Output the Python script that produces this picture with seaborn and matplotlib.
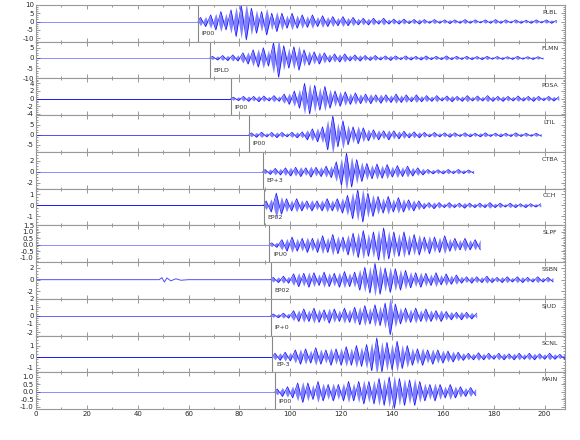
import numpy as np
import pandas as pd
import matplotlib
matplotlib.use("Agg")
import matplotlib.pyplot as plt
import seaborn as sns
from matplotlib.ticker import MultipleLocator, AutoMinorLocator, FormatStrFormatter

# station records, top to bottom
stations = ["PLBL", "FLMN", "PDSA", "LTIL", "CTBA", "CCH", "SLPF", "SSBN", "SJUD", "SCNL", "MAIN"]
pick_labels = ["IP00", "EPLD", "IP00", "IP00", "EP+3", "EP02", "IPU0", "EP02", "IP+0", "EP-3", "IP00"]
p_times = [63.7, 68.4, 76.6, 83.7, 89.1, 89.5, 91.7, 92.3, 92.3, 93.0, 93.9]
dt = 2.0  # spacing of the digitised peaks after the P pick (s)

# signed peak amplitudes, one every dt seconds after P
amp_plbl = [2.5, -3, 4, -5, 6, -5, 7, -9, 10, -11, 8, -7, 6, -8, 5, -6, 5, -4, 5, -4,
            4, -3.5, 4, -3, 3.5, -3, 3, -2.5, 3, -2.5, 2.5, -2, 2, -2, 2, -1.5, 2, -1.5, 1.5,
            -1.5, 1.5, -1.2, 1.3, -1.5, 1.2, -1, 1.2, -1, 1, -1.2, 1, -1, 1.2, -1, 1,
            -0.8, 1, -1, 1.2, -1, 1, -0.8, 1, -1, 0.8, -1, 1, -0.8, 1, -1, 0.8]
amp_flmn = [0.8, -1, 1.2, -1.3, 1.5, -1.5, 2.5, -3, 4, -4.5, 5, -4, 7.5, -9.5, 6, -5,
            5.5, -6, 4, -3.5, 3, -3, 2.5, -2, 2, -2, 2, -1.5, 1.5, -1.5, 1.2, -1.2,
            1.2, -1, 1, -1.2, 1, -0.8, 1, -1, 0.8, -1, 1, -0.8, 0.8, -0.8, 1, -0.8, 0.8,
            -0.7, 0.8, -0.8, 0.7, -0.8, 0.8, -0.6, 0.7, -0.7, 0.6, -0.7, 0.8, -0.6, 0.6,
            -0.7, 0.6, -0.5]
amp_pdsa = [0.4, -0.5, 0.6, -0.7, 0.6, -0.8, 0.7, -0.6, 0.8, -0.7,
            1.2, -1.5, 2, -2.5, 4, -4, 3.5, -3, 3.2, -2.5, 2, -2, 1.8, -1.5, 1.5,
            -1.3, 1.2, -1.3, 1, -1.2, 1, -1, 1.2, -1, 1, -0.8, 1, -0.8,
            0.8, -0.7, 0.8, -0.6, 0.7, -0.8, 0.6, -0.7, 0.8, -0.6, 0.7, -0.6, 0.8, -0.7,
            0.6, -0.7, 0.6, -0.6, 0.7, -0.6, 0.6, -0.7, 0.6, -0.5, 0.6, -0.6, 0.5]
amp_ltil = [1, -1.2, 1.3, -1, 1.2, -1.4, 1.2, -1, 1.3, -1.5, 1.5,
            -2.5, 3, -3.5, 4, -7.5, 9.5, -6, 7, -5, 4, -4.5, 3.5, -3,
            2.5, -2.5, 2, -2.5, 2, -2, 1.8, -1.5, 1.5, -1.5,
            1.2, -1, 1.2, -1, 1, -1.2, 1, -0.8, 1, -1, 0.8, -1, 1, -0.8, 0.8, -1,
            0.8, -0.8, 1, -0.8, 0.8, -0.7, 0.8, -0.7]
amp_ctba = [0.4, -0.5, 0.6, -0.6, 0.7, -0.8, 0.8, -0.9, 0.7, -1, 0.8, -0.9, 1, -1.1,
            1.8, -2.5, 3.4, -2.8, 2.2, -1.8, 1.5, -1.3, 1.4, -1.2,
            1.3, -1, 1.1, -0.9, 1, -0.8, 0.7, -0.6,
            0.4, -0.4, 0.35, -0.4, 0.4, -0.35, 0.4, -0.35, 0.3, -0.3]
amp_cch = [0.4, -0.6, 1.1, -0.8, 0.6, -0.5, 0.6, -0.5, 0.4, -0.5, 0.4, -0.5, 0.6, -0.5,
           0.6, -0.7, 0.9, -1.2, 1.4, -1.5, 1.1, -1, 0.8, -0.7, 0.8, -0.6, 0.7, -0.6,
           0.5, -0.5, 0.4, -0.3, 0.25, -0.3, 0.25, -0.2, 0.25, -0.2, 0.2, -0.25, 0.2,
           -0.2, 0.2, -0.2, 0.25, -0.2, 0.2, -0.15, 0.2, -0.2, 0.15, -0.2, 0.15, -0.15, 0.15]
amp_slpf = [0.15, -0.2, 0.4, -0.5, 0.6, -0.5, 0.5, -0.6, 0.5, -0.6,
            0.7, -0.6, 0.8, -0.7, 0.6, -0.8, 0.9, -1, 1.1, -0.9, 1, -1.2, 1.3, -1.1, 1,
            -0.9, 1, -0.8, 0.8, -0.8, 0.6, -0.7, 0.6, -0.6, 0.7,
            -0.5, 0.5, -0.4, 0.5, -0.4, 0.4, -0.4]
amp_ssbn = [0.4, -0.5, 0.6, -0.6, 1, -1.2, 1.1, -1.3, 1.2, -1, 1.3, -1.2, 1.1, -1.3,
            1.4, -1.2, 1.3, -1.8, 2.1, -2.3, 2.8, -2.5, 2, -2.2, 1.9, -1.8, 1.6,
            -1.4, 1.2, -1.3, 1.1, -1, 1.2, -0.9, 1, -0.8, 0.8,
            -0.6, 0.5, -0.6, 0.5, -0.5, 0.6, -0.5, 0.4, -0.5, 0.5, -0.4, 0.5, -0.5,
            0.4, -0.4, 0.5, -0.4, 0.4, -0.4]
amp_sjud = [0.2, -0.25, 0.3, -0.3, 0.6, -0.7, 0.8, -0.7, 0.9, -0.8, 0.7, -0.9, 0.8,
            -0.7, 0.9, -0.8, 1, -1.1, 1.2, -1, 1.3, -1.2, 1.5, -2.3, 1.4,
            -1, 0.9, -0.8, 0.9, -0.7, 0.8, -0.7, 0.6, -0.7,
            0.5, -0.5, 0.4, -0.5, 0.4, -0.4, 0.3]
amp_scnl = [0.3, -0.35, 0.4, -0.4, 0.6, -0.7, 0.7, -0.6, 0.8, -0.7, 0.6, -0.8, 0.7, -0.8,
            0.9, -0.8, 1, -0.9, 1.1, -1.3, 1.7, -1.4, 1.3, -1.2, 1.4, -1.1, 1,
            -0.8, 0.7, -0.8, 0.6, -0.7, 0.6, -0.6, 0.5, -0.5, 0.4,
            -0.35, 0.3, -0.3, 0.35, -0.3, 0.3, -0.25, 0.3, -0.3, 0.25, -0.3, 0.3,
            -0.25, 0.3, -0.3, 0.25, -0.25, 0.3, -0.25, 0.2, -0.25]
amp_main = [0.2, -0.3, 0.35, -0.4, 0.6, -0.7, 0.6, -0.5, 0.7, -0.6, 0.5, -0.6, 0.5,
            -0.6, 0.7, -0.6, 0.7, -0.8, 0.7, -0.8, 0.9, -0.9, 1, -1.1, 0.9, -0.9, 0.8,
            -0.9, 0.7, -0.6, 0.5, -0.6, 0.5, -0.4, 0.5, -0.4, 0.35, -0.3, 0.3, -0.25]

# small early arrival on SSBN before the P pick
ssbn_early_t = [48.5, 49.5, 50.5, 51.5, 53, 55, 57, 60]
ssbn_early_v = [0, 0.35, -0.4, 0.3, -0.2, 0.15, -0.1, 0]

amplitudes = [amp_plbl, amp_flmn, amp_pdsa, amp_ltil, amp_ctba, amp_cch,
              amp_slpf, amp_ssbn, amp_sjud, amp_scnl, amp_main]

# per-panel axis setup
y_limits = [(-12, 10), (-10, 8), (-4.3, 5.3), (-8.5, 9.8), (-3.1, 3.6), (-1.8, 1.5),
            (-1.35, 1.5), (-3.3, 3), (-2.4, 2.0), (-1.45, 1.9), (-1.15, 1.3)]
y_steps = [5, 5, 2, 5, 2, 1, 0.5, 2, 1, 1, 0.5]
y_formats = ["%g", "%g", "%g", "%g", "%g", "%g", "%.1f", "%g", "%g", "%g", "%.1f"]
baseline_alpha = [0.45, 0.45, 0.9, 0.7, 0.45, 0.9, 0.45, 0.7, 0.6, 0.9, 0.45]


def trace_frame(p, amps):
    t = [p + 1 + dt * k for k in range(len(amps))]
    return pd.DataFrame({"t": [p] + t, "v": [0] + list(amps)})


sns.set_style("ticks")
plt.rcParams["font.family"] = ["DejaVu Sans"]

fig, axes = plt.subplots(len(stations), 1, sharex=True, figsize=(5.8, 4.4), dpi=100)
fig.subplots_adjust(left=0.062, right=0.974, top=0.989, bottom=0.07, hspace=0)

for i, ax in enumerate(axes):
    p = p_times[i]
    if stations[i] == "SSBN":
        pre = pd.DataFrame({"t": [0] + ssbn_early_t + [p], "v": [0] + ssbn_early_v + [0]})
    else:
        pre = pd.DataFrame({"t": [0, p], "v": [0, 0]})
    sns.lineplot(data=pre, x="t", y="v", ax=ax, color="blue", lw=0.7,
                 alpha=baseline_alpha[i], estimator=None, sort=False)

    tr = trace_frame(p, amplitudes[i])
    # dense wiggles shown as the band spanned by the peaks, with the peaks on top
    ax.fill_between(tr["t"], tr["v"], -tr["v"], color="#1a1aff", alpha=0.55, lw=0)
    sns.lineplot(data=tr, x="t", y="v", ax=ax, color="blue", alpha=0.9,
                 lw=0.5, estimator=None, sort=False)

    ax.axvline(p, color="#888888", lw=0.8)
    ax.annotate(pick_labels[i], xy=(p + 1.5, 0.22), xycoords=("data", "axes fraction"),
                fontsize=4.5, ha="left", va="center", color="#333333")
    ax.annotate(stations[i], xy=(202, 0.8), xycoords=("data", "axes fraction"),
                fontsize=4.5, ha="center", va="center", color="#333333")

    ax.set_xlim(0, 208)
    ax.set_ylim(*y_limits[i])
    ax.yaxis.set_major_locator(MultipleLocator(y_steps[i]))
    ax.yaxis.set_minor_locator(AutoMinorLocator(4))
    ax.yaxis.set_major_formatter(FormatStrFormatter(y_formats[i]))
    ax.xaxis.set_major_locator(MultipleLocator(20))
    ax.xaxis.set_minor_locator(MultipleLocator(10))
    ax.set_xlabel("")
    ax.set_ylabel("")
    ax.tick_params(which="both", direction="in", top=True, right=True, width=0.6,
                   color="#888888", labelsize=5, pad=1.5)
    ax.tick_params(which="major", length=3)
    ax.tick_params(which="minor", length=1.5)
    for s in ax.spines.values():
        s.set_color("#999999")
        s.set_linewidth(0.8)

fig.savefig("out.png", dpi=100)
